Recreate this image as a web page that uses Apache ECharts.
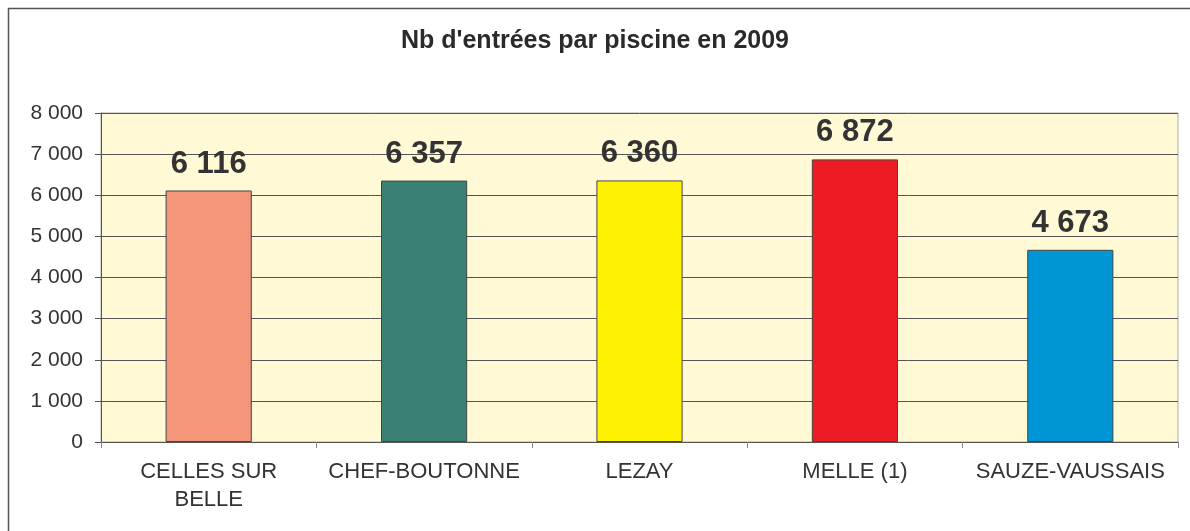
<!DOCTYPE html>
<html lang="fr" style="height: 100%">
<head>
  <meta charset="utf-8">
</head>
<body style="height: 100%; margin: 0; background: #fff">
  <div id="container" style="width: 1190px; height: 531px"></div>
  <script type="text/javascript" src="https://cdn.jsdelivr.net/npm/echarts@6/dist/echarts.min.js"></script>
  <script type="text/javascript">
    // données
    var piscines = ['CELLES SUR\nBELLE', 'CHEF-BOUTONNE', 'LEZAY', 'MELLE (1)', 'SAUZE-VAUSSAIS'];
    var entrees = [6116, 6357, 6360, 6872, 4673];
    var couleurs = ['#F4967A', '#3A8174', '#FFF200', '#ED1C24', '#0096D6'];

    function fmt(v) {
      return String(v).replace(/\B(?=(\d{3})+(?!\d))/g, ' ');
    }

    var dom = document.getElementById('container');
    var myChart = echarts.init(dom, null, { renderer: 'canvas' });

    var option = {
      backgroundColor: '#fff',
      animation: false,
      textStyle: { fontFamily: 'Liberation Sans, Arial, sans-serif' },
      graphic: [{
        type: 'rect',
        shape: { x: 8.5, y: 8.5, width: 1200, height: 600 },
        style: { fill: 'none', stroke: '#555', lineWidth: 1.5 },
        silent: true
      }],
      title: {
        text: "Nb d'entrées par piscine en 2009",
        left: 'center',
        top: 24,
        textStyle: { fontSize: 25, fontWeight: 'bold', color: '#2a2a2a' }
      },
      grid: {
        left: 101, right: 12, top: 113, bottom: 89,
        show: true,
        backgroundColor: '#FFF9D6',
        borderColor: '#aaa',
        borderWidth: 1
      },
      xAxis: {
        type: 'category',
        data: piscines,
        axisLine: { lineStyle: { color: '#555', width: 1 } },
        axisTick: { show: true, length: 6, lineStyle: { color: '#888' } },
        axisLabel: {
          color: '#333', fontSize: 22, margin: 16, lineHeight: 28, interval: 0
        }
      },
      yAxis: {
        type: 'value',
        min: 0, max: 8000, interval: 1000,
        axisLine: { show: true, lineStyle: { color: '#555' } },
        axisTick: { show: true, length: 6, lineStyle: { color: '#555' } },
        splitLine: { lineStyle: { color: '#555', width: 1 } },
        axisLabel: {
          color: '#333', fontSize: 21, margin: 18,
          formatter: function (v) { return fmt(v); }
        }
      },
      series: [{
        type: 'bar',
        barWidth: '40%',
        data: entrees.map(function (v, i) {
          return { value: v, itemStyle: { color: couleurs[i] } };
        }),
        itemStyle: { borderColor: '#444', borderWidth: 1 },
        label: {
          show: true,
          position: 'top',
          distance: 11,
          fontSize: 31,
          fontWeight: 'bold',
          color: '#333',
          formatter: function (p) { return fmt(p.value); }
        }
      }]
    };

    myChart.setOption(option);
    window.addEventListener('resize', myChart.resize);
  </script>
</body>
</html>
